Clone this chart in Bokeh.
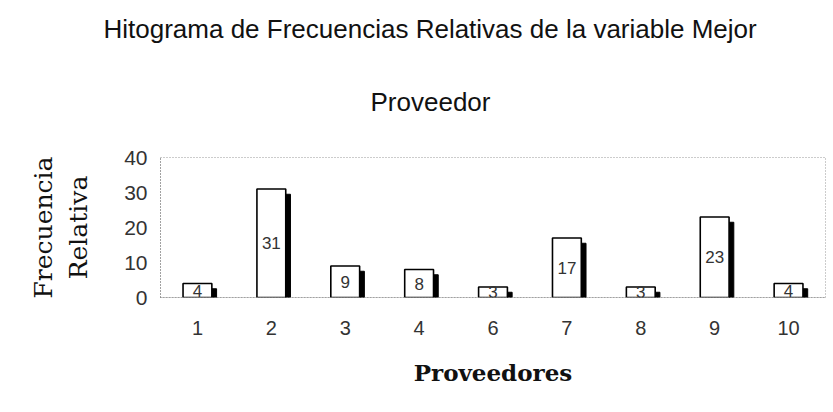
from bokeh.plotting import figure
from bokeh.models import ColumnDataSource, Range1d, Title, FixedTicker
from bokeh.core.properties import value
from bokeh.embed import file_html
from bokeh.resources import INLINE

# Data
proveedores = ["1", "2", "3", "4", "6", "7", "8", "9", "10"]
frecuencias = [4, 31, 9, 8, 3, 17, 3, 23, 4]
y_ticks = [0, 10, 20, 30, 40]

title_line1 = "Hitograma de Frecuencias Relativas de la variable Mejor"
title_line2 = "Proveedor"
y_label = "Frecuencia\nRelativa"
x_label = "Proveedores"

shadow_drop = 1.5
shadow_shift = 0.225
pos = list(range(len(proveedores)))
src = ColumnDataSource(dict(
    x=pos,
    xs=[i + shadow_shift for i in pos],
    val=frecuencias,
    mid=[v / 2 for v in frecuencias],
    shadow=[max(v - shadow_drop, 0.3) for v in frecuencias],
    txt=[str(v) for v in frecuencias],
))

p = figure(width=826, height=405, x_range=Range1d(-0.5, len(proveedores) - 0.5),
           y_range=Range1d(0, 40),
           output_backend="svg", toolbar_location=None, title=None,
           min_border_left=160, min_border_right=1, min_border_top=157, min_border_bottom=108)
p.background_fill_color = "white"
p.border_fill_color = "white"
p.xgrid.grid_line_color = None
p.ygrid.grid_line_color = None
p.outline_line_color = "#999999"
p.outline_line_dash = "1 2"
p.outline_line_width = 1

# shadow bars
p.vbar(x="xs", top="shadow", width=0.068, source=src, fill_color="black", line_color="black")
# main bars
p.vbar(x="x", top="val", width=0.39, source=src,
       fill_color="white", line_color="black", line_width=1.6)
p.text(x="x", y="mid", text="txt", source=src,
       text_align="center", text_baseline="middle", text_font_size="17px",
       text_color="#333333", text_font=value("Liberation Sans"))

p.xaxis.ticker = FixedTicker(ticks=pos)
p.xaxis.major_label_overrides = {i: c for i, c in zip(pos, proveedores)}
p.yaxis.ticker = y_ticks
for ax in (p.xaxis[0], p.yaxis[0]):
    ax.axis_line_color = "#777777"
    ax.axis_line_dash = "1 2"
    ax.major_tick_line_color = None
    ax.minor_tick_line_color = None
    ax.major_label_text_font = "Liberation Sans"
    ax.major_label_text_color = "#333333"
p.yaxis.major_label_text_font_size = "21px"
p.yaxis.major_label_standoff = 7
p.xaxis.major_label_text_font_size = "20px"
p.xaxis.major_label_standoff = 17

p.yaxis.axis_label = y_label
p.yaxis.axis_label_text_font = "DejaVu Serif"
p.yaxis.axis_label_text_font_size = "25px"
p.yaxis.axis_label_text_font_style = "normal"
p.yaxis.axis_label_text_color = "#111111"
p.yaxis.axis_label_standoff = 28
p.yaxis.axis_label_text_align = "center"

p.xaxis.axis_label = x_label
p.xaxis.axis_label_text_font = "DejaVu Serif"
p.xaxis.axis_label_text_font_size = "23px"
p.xaxis.axis_label_text_font_style = "bold"
p.xaxis.axis_label_text_color = "#111111"
p.xaxis.axis_label_standoff = 21

# two-line title; the standoff of the lower line lifts both lines away from the frame
t2 = Title(text=title_line2, align="left", offset=210, standoff=82,
           text_font="Liberation Sans", text_font_size="26px", text_font_style="normal",
           text_color="#111111")
t1 = Title(text=title_line1, align="left", offset=-57, standoff=0,
           text_font="Liberation Sans", text_font_size="26px", text_font_style="normal",
           text_color="#111111")
p.add_layout(t2, "above")
p.add_layout(t1, "above")

open("out.html", "w").write(file_html(p, INLINE))
